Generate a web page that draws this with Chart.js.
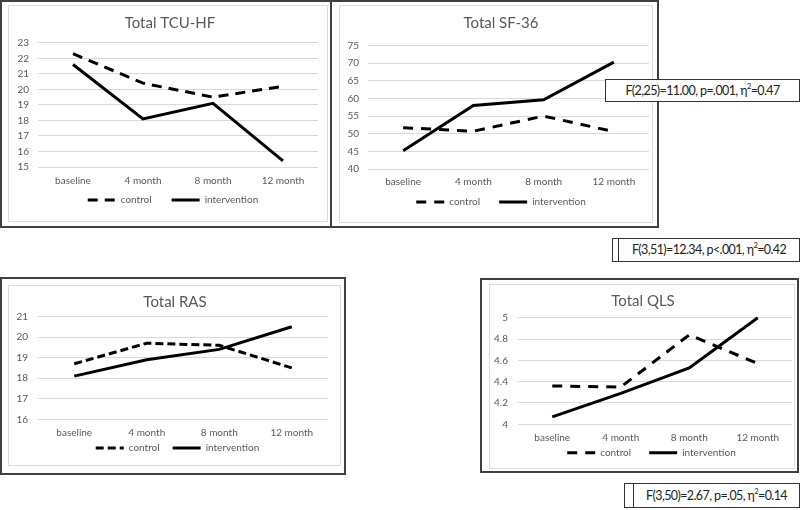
<!DOCTYPE html>
<html>
<head>
<meta charset="utf-8">
<script src="https://cdn.jsdelivr.net/npm/chart.js@4.4.1/dist/chart.umd.min.js"></script>
<style>
html,body{margin:0;padding:0;background:#fff;}
body{width:800px;height:510px;overflow:hidden;position:relative;font-family:Lato,"Open Sans",sans-serif;}
.b{position:absolute;box-sizing:border-box;}
.outer{border:2px solid #404040;}
.inner{border:1px solid #dcdcdc;}
canvas{position:absolute;}
.ann{position:absolute;box-sizing:border-box;border:1px solid #333;background:#fff;color:#222;font-size:12.5px;letter-spacing:-0.6px;text-align:center;white-space:nowrap;}
.ann sup{font-size:7.5px;line-height:0;vertical-align:6px;}
</style>
</head>
<body>
<div class="b outer" style="left:0;top:0;width:332px;height:228px"></div>
<div class="b outer" style="left:330px;top:0;width:329px;height:228px"></div>
<div class="b outer" style="left:0;top:277px;width:346px;height:198px"></div>
<div class="b outer" style="left:480px;top:278px;width:319px;height:195px"></div>

<div class="b inner" style="left:8px;top:5px;width:320px;height:217px"></div>
<div class="b inner" style="left:339px;top:5px;width:314px;height:218px"></div>
<div class="b inner" style="left:8px;top:285px;width:333px;height:181px"></div>
<div class="b inner" style="left:489px;top:284px;width:306px;height:185px"></div>

<canvas id="c1" width="317" height="214" style="left:9px;top:6px;width:317px;height:214px"></canvas>
<canvas id="c2" width="311" height="215" style="left:340px;top:6px;width:311px;height:215px"></canvas>
<canvas id="c3" width="330" height="178" style="left:9px;top:286px;width:330px;height:178px"></canvas>
<canvas id="c4" width="303" height="183" style="left:490px;top:285px;width:303px;height:183px"></canvas>

<div class="ann" id="a1" style="left:605px;top:79px;width:195px;height:23px;line-height:21px"></div>
<div class="ann" style="left:612px;top:238px;width:8px;height:24px"></div>
<div class="ann" id="a2" style="left:618px;top:238px;width:182px;height:24px;line-height:22px"></div>
<div class="ann" style="left:624px;top:483px;width:10px;height:25px"></div>
<div class="ann" id="a3" style="left:633px;top:483px;width:167px;height:25px;line-height:23px"></div>

<script>
// ---- data ----
const categories = ['baseline', '4 month', '8 month', '12 month'];
const seriesNames = ['control', 'intervention'];

const tcuControl = [22.3, 20.4, 19.5, 20.2];
const tcuIntervention = [21.6, 18.1, 19.1, 15.4];

const sfControl = [51.7, 50.7, 55.0, 50.6];
const sfIntervention = [45.2, 58.0, 59.6, 70.3];

const rasControl = [18.7, 19.7, 19.6, 18.5];
const rasIntervention = [18.1, 18.9, 19.4, 20.5];

const qlsControl = [4.36, 4.35, 4.84, 4.57];
const qlsIntervention = [4.07, 4.29, 4.53, 5.0];

// y-axis tick range: [min, max, step]
const tcuTicks = [15, 23, 1];
const sfTicks = [40, 75, 5];
const rasTicks = [16, 21, 1];
const qlsTicks = [4, 5, 0.2];

const titles = ['Total TCU-HF', 'Total SF-36', 'Total RAS', 'Total QLS'];
const statF = ['F(2,25)=11.00, p=.001, η', 'F(3,51)=12.34, p<.001, η', 'F(3,50)=2.67, p=.05, η'];
const statEta = ['0.47', '0.42', '0.14'];

// ---- annotations ----
['a1', 'a2', 'a3'].forEach((id, i) => {
  document.getElementById(id).innerHTML = statF[i] + '<sup>2</sup>=' + statEta[i];
});

// ---- charts ----
Chart.defaults.font.family = "Lato, 'Open Sans', sans-serif";
const GREY = '#595959';

// moves the title / legend blocks (Excel-like placement)
const placePlugin = {
  id: 'place',
  afterLayout(chart, args, o) {
    const lg = chart.legend, tb = chart.titleBlock;
    if (tb) { tb.left += o.titleDx; tb.right += o.titleDx; }
    if (lg) {
      const h = 10 + o.lp + 10;
      lg.left += o.legendDx; lg.right += o.legendDx;
      lg.top = o.legendCy - o.lp - 5;
      lg.height = h;
      lg.bottom = lg.top + h;
    }
  }
};

function makeChart(id, title, control, intervention, ticks, lay) {
  return new Chart(document.getElementById(id), {
    type: 'line',
    plugins: [placePlugin],
    data: {
      labels: categories,
      datasets: [
        { label: seriesNames[0], data: control, borderColor: '#000', backgroundColor: '#000', borderWidth: 3,
          borderDash: lay.dash, pointRadius: 0, pointHoverRadius: 0, tension: 0, fill: false, clip: false },
        { label: seriesNames[1], data: intervention, borderColor: '#000', backgroundColor: '#000', borderWidth: 3,
          pointRadius: 0, pointHoverRadius: 0, tension: 0, fill: false, clip: false }
      ]
    },
    options: {
      responsive: false,
      animation: false,
      events: [],
      layout: { padding: { left: 0, right: lay.R, top: 0, bottom: lay.B } },
      plugins: {
        place: { titleDx: lay.tdx, legendDx: lay.ldx, legendCy: lay.lcy, lp: lay.lp },
        title: { display: true, text: title, color: GREY, font: { size: 15, weight: 'normal' },
                 padding: { top: lay.tt, bottom: lay.tb } },
        legend: {
          position: 'bottom',
          maxHeight: 1,
          labels: {
            usePointStyle: true, pointStyleWidth: 28, padding: lay.lp, color: GREY, font: { size: 10 },
            generateLabels: chart => chart.data.datasets.map((ds, i) => ({
              text: ds.label, fillStyle: '#000', strokeStyle: '#000', lineWidth: 3,
              lineDash: ds.borderDash || [], pointStyle: 'line', hidden: false, datasetIndex: i, fontColor: GREY
            }))
          }
        },
        tooltip: { enabled: false }
      },
      scales: {
        x: {
          offset: true,
          grid: { display: false, drawTicks: false, tickLength: 0 },
          border: { display: false },
          ticks: { color: GREY, font: { size: 10 }, padding: lay.xp, maxRotation: 0, autoSkip: false },
          afterFit: s => { s.height = lay.xp + 14; }
        },
        y: {
          min: ticks[0], max: ticks[1],
          ticks: { stepSize: ticks[2], color: GREY, font: { size: 10 }, padding: lay.yp,
                   callback: v => String(Math.round(v * 100) / 100) },
          grid: { color: '#d9d9d9', drawTicks: false, tickLength: 0, lineWidth: 1 },
          border: { display: false },
          afterFit: s => { s.width = lay.yw; }
        }
      }
    }
  });
}

makeChart('c1', titles[0], tcuControl, tcuIntervention, tcuTicks,
  { R: 8, B: 30, yw: 29, yp: 9, tt: 8.4, tb: 10.4, lp: 20, xp: 8, lcy: 194, tdx: 6.5, ldx: 9.5, dash: [10, 7] });
makeChart('c2', titles[1], sfControl, sfIntervention, sfTicks,
  { R: 2, B: 30, yw: 28, yp: 9, tt: 8.4, tb: 13.1, lp: 19, xp: 7, lcy: 196, tdx: 6.5, ldx: 6.5, dash: [10, 8] });
makeChart('c3', titles[2], rasControl, rasIntervention, rasTicks,
  { R: 11, B: 22.3, yw: 29, yp: 10, tt: 7.4, tb: 5.1, lp: 13, xp: 7.4, lcy: 162, tdx: 6.5, ldx: 9, dash: [8, 4] });
makeChart('c4', titles[3], qlsControl, qlsIntervention, qlsTicks,
  { R: 1, B: 21.3, yw: 28, yp: 10, tt: 7.4, tb: 7.4, lp: 18, xp: 7.4, lcy: 167.7, tdx: 2, ldx: 10.5, dash: [10, 8] });
</script>
</body>
</html>
